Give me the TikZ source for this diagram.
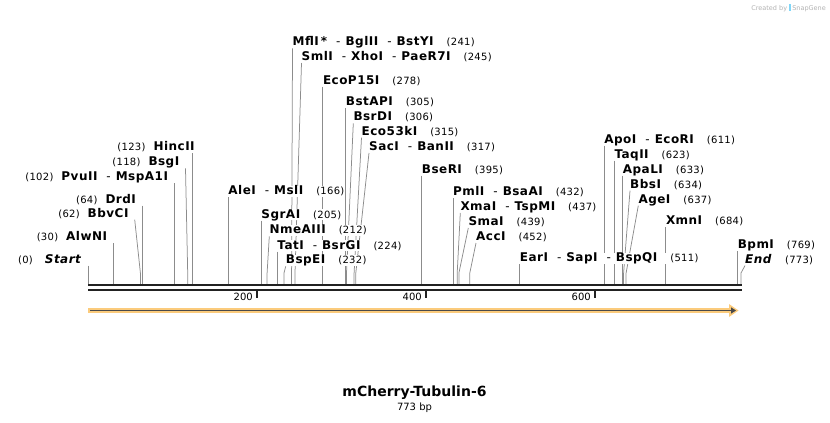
\documentclass[tikz,border=0pt]{standalone}
\usepackage{xcolor}
\usepackage{fontspec}
\setmainfont{DejaVu Sans}
\newfontfamily\enzfont[LetterSpace=4]{DejaVu Sans}
\newfontfamily\numfont[LetterSpace=3]{DejaVu Sans}
\usepackage{tikz}
\usetikzlibrary{arrows.meta, backgrounds}

\definecolor{featorange}{HTML}{FBCB7C}
\definecolor{featline}{HTML}{4A4A4A}
\definecolor{strand}{HTML}{222222}

% number in brackets, right or left of the enzyme name
\newcommand{\nbx}[1]{{\numfont\mdseries\fontsize{10}{12}\selectfont #1}}
\newcommand{\numr}[1]{\hspace{13pt}\nbx{#1}}
\newcommand{\numl}[1]{\nbx{#1}\hspace{8pt}}
\newcommand{\sep}{\hspace{9pt}{\mdseries -}\hspace{5pt}}

\tikzset{
  enz/.style={inner sep=0pt, text depth=2.3pt, fill=white, font=\enzfont\bfseries\fontsize{12}{14}\selectfont},
  lft/.style={enz, anchor=south east, inner xsep=6pt},
  rgt/.style={enz, anchor=south west},
  cut/.style={draw=black!45, line width=0.75pt},
}

\begin{document}
\begin{tikzpicture}[x=1pt,y=-1pt]
\useasboundingbox (0,0) rectangle (830,423);

% double strand
\draw[strand, line width=2.3pt] (88,285.3) -- (741.5,285.3);
\draw[strand, line width=2.3pt] (88,289.8) -- (741.5,289.8);

% ruler
\draw[strand, line width=1.4pt] (257,291) -- (257,297.5);
\draw[strand, line width=1.4pt] (425.9,291) -- (425.9,297.5);
\draw[strand, line width=1.4pt] (594.9,291) -- (594.9,297.5);
\node[anchor=base east, inner sep=0pt, font=\fontsize{10}{12}\selectfont] (r200) at (253,300.7) {200};
\node[anchor=base east, inner sep=0pt, font=\fontsize{10}{12}\selectfont] (r400) at (422,300.7) {400};
\node[anchor=base east, inner sep=0pt, font=\fontsize{10}{12}\selectfont] (r600) at (591,300.7) {600};

% feature arrow
\draw[featorange, line width=5.5pt] (88,310.5) -- (731,310.5);
\fill[featorange] (729,304) -- (738.5,310.5) -- (729,317) -- cycle;
\draw[featline, line width=1.8pt, -{Triangle[length=5pt,width=6pt]}] (90,310.5) -- (736,310.5);

% sites on the strand
\coordinate (p0) at (88,284);
\coordinate (p30) at (113.3,284);
\coordinate (p62) at (140.4,284);
\coordinate (p64) at (142.1,284);
\coordinate (p102) at (174.2,284);
\coordinate (p118) at (187.7,284);
\coordinate (p123) at (191.9,284);
\coordinate (p166) at (228.2,284);
\coordinate (p205) at (261.2,284);
\coordinate (p212) at (267.1,284);
\coordinate (p224) at (277.2,284);
\coordinate (p232) at (284.0,284);
\coordinate (p241) at (291.6,284);
\coordinate (p245) at (295.0,284);
\coordinate (p278) at (322.8,284);
\coordinate (p305) at (345.7,284);
\coordinate (p306) at (346.5,284);
\coordinate (p315) at (354.1,284);
\coordinate (p317) at (355.8,284);
\coordinate (p395) at (421.7,284);
\coordinate (p432) at (452.9,284);
\coordinate (p437) at (457.2,284);
\coordinate (p439) at (458.9,284);
\coordinate (p452) at (469.8,284);
\coordinate (p511) at (519.7,284);
\coordinate (p611) at (604.2,284);
\coordinate (p623) at (614.3,284);
\coordinate (p633) at (622.7,284);
\coordinate (p634) at (623.6,284);
\coordinate (p637) at (626.1,284);
\coordinate (p684) at (665.8,284);
\coordinate (p769) at (737.6,284);
\coordinate (p773) at (741.0,284);

% labels left of the cut
\node[lft] (n0) at (88,265.6) {\nbx{(0)}\hspace{12pt}\textit{Start}};
\node[lft] (n30) at (113.3,243.3) {\numl{(30)}AlwNI};
\node[lft] (n62) at (134.7,219.6) {\numl{(62)}BbvCI};
\node[lft] (n64) at (142.1,205.6) {\numl{(64)}DrdI};
\node[lft] (n102) at (174.2,183) {\numl{(102)}PvuII\sep MspA1I};
\node[lft] (n118) at (185.5,168.3) {\numl{(118)}BsgI};
\node[lft, inner xsep=-3pt] (n123) at (191.9,153) {\numl{(123)}HincII};

% labels right of the cut
\node[rgt] (n166) at (228.2,197.3) {AleI\sep MslI\numr{(166)}};
\node[rgt] (n205) at (261.2,220.6) {SgrAI\numr{(205)}};
\node[rgt] (n212) at (269.3,236.3) {NmeAIII\numr{(212)}};
\node[rgt] (n224) at (277.2,251.6) {TatI\sep BsrGI\numr{(224)}};
\node[rgt] (n232) at (285.7,266.3) {BspEI\numr{(232)}};
\node[rgt] (n241) at (292.5,48.3) {MflI\,*\sep BglII\sep BstYI\numr{(241)}};
\node[rgt] (n245) at (301.5,63) {SmlI\sep XhoI\sep PaeR7I\numr{(245)}};
\node[rgt] (n278) at (322.8,86.6) {EcoP15I\numr{(278)}};
\node[rgt] (n305) at (345.7,108.3) {BstAPI\numr{(305)}};
\node[rgt] (n306) at (353.3,123.3) {BsrDI\numr{(306)}};
\node[rgt] (n315) at (361.5,137.6) {Eco53kI\numr{(315)}};
\node[rgt] (n317) at (369,153) {SacI\sep BanII\numr{(317)}};
\node[rgt] (n395) at (421.7,175.6) {BseRI\numr{(395)}};
\node[rgt] (n432) at (452.9,198) {PmlI\sep BsaAI\numr{(432)}};
\node[rgt] (n437) at (460.3,213) {XmaI\sep TspMI\numr{(437)}};
\node[rgt] (n439) at (468.3,228) {SmaI\numr{(439)}};
\node[rgt] (n452) at (476,243) {AccI\numr{(452)}};
\node[rgt] (n511) at (519.7,264) {EarI\sep SapI\sep BspQI\numr{(511)}};
\node[rgt] (n611) at (604.2,145.6) {ApoI\sep EcoRI\numr{(611)}};
\node[rgt] (n623) at (614.3,160.6) {TaqII\numr{(623)}};
\node[rgt] (n633) at (622.7,175.6) {ApaLI\numr{(633)}};
\node[rgt] (n634) at (630,190.6) {BbsI\numr{(634)}};
\node[rgt] (n637) at (638.3,205.6) {AgeI\numr{(637)}};
\node[rgt] (n684) at (665.8,227.3) {XmnI\numr{(684)}};
\node[rgt] (n769) at (737.6,251.3) {BpmI\numr{(769)}};
\node[rgt] (n773) at (745,265.6) {\textit{End}\numr{(773)}};

% cut lines, behind the labels
\begin{pgfonlayer}{background}
\draw[cut] (n0.south east) -- (p0);
\draw[cut] (n30.south east) -- (p30);
\draw[cut] (n62.south east) -- ([yshift=11pt]p62) -- (p62);
\draw[cut] (n64.south east) -- (p64);
\draw[cut] (n102.south east) -- (p102);
\draw[cut] (n118.south east) -- ([yshift=11pt]p118) -- (p118);
\draw[cut] (n123.south east) -- (p123);
\draw[cut] (n166.south west) -- (p166);
\draw[cut] (n205.south west) -- (p205);
\draw[cut] (n212.south west) -- ([yshift=11pt]p212) -- (p212);
\draw[cut] (n224.south west) -- (p224);
\draw[cut] (n232.south west) -- ([yshift=11pt]p232) -- (p232);
\draw[cut] (n241.south west) -- ([yshift=11pt]p241) -- (p241);
\draw[cut] (n245.south west) -- ([yshift=11pt]p245) -- (p245);
\draw[cut] (n278.south west) -- (p278);
\draw[cut] (n305.south west) -- (p305);
\draw[cut] (n306.south west) -- ([yshift=11pt]p306) -- (p306);
\draw[cut] (n315.south west) -- ([yshift=11pt]p315) -- (p315);
\draw[cut] (n317.south west) -- ([yshift=11pt]p317) -- (p317);
\draw[cut] (n395.south west) -- (p395);
\draw[cut] (n432.south west) -- (p432);
\draw[cut] (n437.south west) -- ([yshift=11pt]p437) -- (p437);
\draw[cut] (n439.south west) -- ([yshift=11pt]p439) -- (p439);
\draw[cut] (n452.south west) -- ([yshift=11pt]p452) -- (p452);
\draw[cut] (n511.south west) -- (p511);
\draw[cut] (n611.south west) -- (p611);
\draw[cut] (n623.south west) -- (p623);
\draw[cut] (n633.south west) -- (p633);
\draw[cut] (n634.south west) -- ([yshift=11pt]p634) -- (p634);
\draw[cut] (n637.south west) -- ([yshift=11pt]p637) -- (p637);
\draw[cut] (n684.south west) -- (p684);
\draw[cut] (n769.south west) -- (p769);
\draw[cut] (n773.south west) -- ([yshift=11pt]p773) -- (p773);
\end{pgfonlayer}

% name and size
\node[anchor=base, inner sep=0pt, font=\bfseries\fontsize{14}{16}\selectfont] (title) at (414.5,396.7) {mCherry-Tubulin-6};
\node[anchor=base, inner sep=0pt, font=\fontsize{10}{12}\selectfont] (size) at (414.5,410) {773 bp};
\node[anchor=base east, inner sep=0pt, text=black!30, font=\fontsize{6.5}{8}\selectfont] (credit) at (826,10.5) {Created by \textcolor{cyan!50}{\rule{2pt}{6pt}}\,SnapGene};
\end{tikzpicture}
\end{document}
